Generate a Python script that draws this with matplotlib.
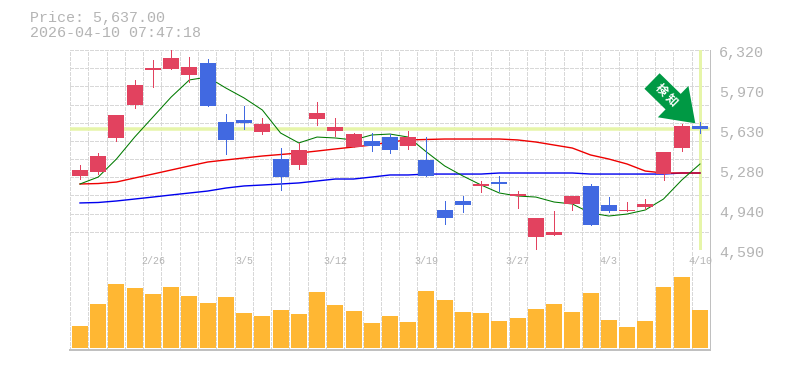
#!/usr/bin/env python3
"""
Candlestick chart with moving averages and a volume panel
"""

import numpy as np
import matplotlib
matplotlib.use('Agg')
import matplotlib.pyplot as plt
from matplotlib.patches import FancyArrow

# price data, one entry per session
opens = [5230, 5265, 5559, 5844, 6147, 6156, 6104, 6208, 5697, 5715, 5611, 5377, 5325, 5723, 5619, 5481, 5533, 5567,
         5490, 5369, 4936, 5014, 5144, 5178, 5057, 4702, 4720, 4988, 5144, 4979, 4927, 4962, 5247, 5472, 5663]
highs = [5325, 5429, 5758, 6061, 6234, 6320, 6259, 6242, 5766, 5836, 5732, 5472, 5516, 5870, 5732, 5602, 5602, 5593,
         5619, 5567, 5014, 5057, 5187, 5230, 5100, 4867, 4927, 5057, 5161, 5048, 5005, 5031, 5438, 5680, 5697]
lows = [5204, 5247, 5533, 5818, 6000, 6156, 6043, 5836, 5420, 5637, 5593, 5105, 5291, 5671, 5576, 5481, 5446, 5429,
        5464, 5230, 4815, 4919, 5092, 5100, 4953, 4590, 4720, 4936, 4806, 4919, 4927, 4945, 5195, 5446, 5602]
closes = [5282, 5403, 5758, 6017, 6164, 6251, 6173, 5836, 5542, 5689, 5680, 5221, 5455, 5775, 5654, 5593, 5490, 5455,
          5567, 5230, 4867, 4979, 5161, 5161, 5074, 4867, 4746, 5057, 4806, 4927, 4936, 4988, 5438, 5663, 5637]
volumes = [22000, 44000, 64000, 60000, 54000, 61000, 52000, 45000, 51000, 35000, 32000, 38000, 34000, 56000, 43000,
           37000, 25000, 32000, 26000, 57000, 48000, 36000, 35000, 27000, 30000, 39000, 44000, 36000, 55000, 28000,
           21000, 27000, 61000, 71000, 38000]

# moving averages
ma_short = [5161, 5221, 5377, 5567, 5740, 5913, 6061, 6086, 5991, 5905, 5801, 5602, 5516, 5567, 5559, 5542, 5585, 5593,
            5567, 5438, 5317, 5230, 5152, 5083, 5057, 5048, 5005, 4988, 4910, 4884, 4901, 4936, 5031, 5195, 5334]
ma_mid = [5161, 5165, 5178, 5213, 5247, 5282, 5317, 5351, 5369, 5386, 5403, 5416, 5429, 5446, 5464, 5481, 5498, 5524,
          5542, 5546, 5550, 5550, 5550, 5550, 5542, 5524, 5498, 5472, 5412, 5377, 5334, 5273, 5256, 5256, 5256]
ma_long = [4997, 5001, 5014, 5031, 5048, 5066, 5083, 5100, 5126, 5144, 5152, 5161, 5170, 5187, 5204, 5204, 5221, 5239,
           5239, 5247, 5247, 5247, 5247, 5256, 5256, 5256, 5256, 5256, 5247, 5247, 5247, 5247, 5247, 5256, 5256]

# axis labels
price_ticks = [6320, 5970, 5630, 5280, 4940, 4590]
date_positions = [4, 9, 14, 19, 24, 29, 34]
date_labels = ['2/26', '3/5', '3/12', '3/19', '3/27', '4/3', '4/10']
last_price = 5637
title_lines = ['Price: 5,637.00', '2026-04-10 07:47:18']
badge_text = '検 知'

W, H = 785, 370
LEFT, RIGHT = 70, 710
PRICE_TOP, PRICE_BOTTOM, VOL_BOTTOM = 50, 250, 350

RED = '#e2425f'
BLUE = '#4169e1'
ORANGE = '#ffb733'
HILITE = '#e6f5a9'
GRID = '#d8d8d8'
FRAME = '#c0c0c0'
TEXT = '#b4b4b4'
MONO = 'Liberation Mono'
PX = 0.72  # one pixel in points at dpi 100


def axes_rect(top, bottom):
    return [LEFT / W, 1 - bottom / H, (RIGHT - LEFT) / W, (bottom - top) / H]


def style_axes(ax, xlim):
    ax.set_xlim(*xlim)
    for side in ('top', 'left'):
        ax.spines[side].set_visible(False)
    for side in ('right', 'bottom'):
        ax.spines[side].set_color(FRAME)
        ax.spines[side].set_linewidth(PX)
    ax.set_xticks([])
    ax.set_yticks([])
    ax.set_axisbelow(True)
    for x in np.linspace(xlim[0], xlim[1], 36)[:-1]:
        ax.axvline(x, color=GRID, linewidth=PX, linestyle=(0, (4, 2)), zorder=0, antialiased=False)


def main():
    fig = plt.figure(figsize=(W / 100, H / 100), dpi=100)
    ax = fig.add_axes(axes_rect(PRICE_TOP, PRICE_BOTTOM))
    ax_vol = fig.add_axes(axes_rect(PRICE_BOTTOM, VOL_BOTTOM))

    xs = np.arange(len(closes))
    xlim = (-0.548, 34.55)

    style_axes(ax, xlim)
    style_axes(ax_vol, xlim)
    ax_vol.spines['bottom'].set_linewidth(2 * PX)

    # price panel
    ax.set_ylim(price_ticks[-1], price_ticks[0])
    for y in np.linspace(price_ticks[-1], price_ticks[0], 12)[1:]:
        ax.axhline(y, color=GRID, linewidth=PX, linestyle=(0, (4, 2)), zorder=0, antialiased=False,
                   clip_on=False)

    ax.axhline(last_price, xmax=0.997, color=HILITE, linewidth=3.5 * PX, zorder=1)
    ax.axvline(xs[-1], ymin=0.005, ymax=0.995, color=HILITE, linewidth=3 * PX, zorder=1)

    ax.plot(xs, ma_long, color='#0000ee', linewidth=1.0, zorder=2)
    ax.plot(xs, ma_mid, color='#ee0000', linewidth=1.0, zorder=2)
    ax.plot(xs, ma_short, color='#007a00', linewidth=0.75, zorder=2)

    colors = [RED if c >= o else BLUE for o, c in zip(opens, closes)]
    ax.vlines(xs, lows, highs, colors=colors, linewidth=PX, zorder=3, antialiased=False)
    body_low = np.minimum(opens, closes)
    body_size = np.abs(np.array(closes) - np.array(opens))
    ax.bar(xs, body_size, 0.877, bottom=body_low, color=colors, linewidth=0, zorder=4)

    for value in price_ticks:
        ax.annotate(f'{value:,}', xy=(1, value), xycoords=('axes fraction', 'data'),
                    xytext=(9 * PX, -3 * PX), textcoords='offset points',
                    ha='left', va='center', color=TEXT, fontsize=10.8, family=MONO,
                    annotation_clip=False)

    # volume panel
    ax_vol.set_ylim(-2000, 98000)
    ax_vol.bar(xs, volumes, 0.877, color=ORANGE, linewidth=0, zorder=2)
    for pos, label in zip(date_positions, date_labels):
        ax_vol.annotate(label, xy=(pos, 1), xycoords=('data', 'axes fraction'),
                        xytext=(0, -11 * PX), textcoords='offset points',
                        ha='center', va='center', color=TEXT, fontsize=7.2, family=MONO,
                        annotation_clip=False)

    # header
    for line, y in zip(title_lines, (18, 33)):
        fig.text(30 / W, 1 - y / H, line, ha='left', va='center', color=TEXT, fontsize=10.8, family=MONO)

    # green badge arrow, drawn in figure pixels so it keeps its shape
    overlay = fig.add_axes([0, 0, 1, 1], facecolor='none')
    overlay.set_xlim(0, W)
    overlay.set_ylim(H, 0)
    overlay.axis('off')
    overlay.add_patch(FancyArrow(652, 81, 43.3, 42.3, width=21.7, head_width=43.8, head_length=31,
                                 length_includes_head=True, color='#009944', linewidth=0))
    overlay.text(667, 95, badge_text, rotation=-45, rotation_mode='anchor', ha='center', va='center',
                 color='white', fontsize=8.5, fontweight='bold', family=['Noto Sans CJK JP', 'DejaVu Sans'])

    fig.savefig('out.png', dpi=100)


if __name__ == '__main__':
    main()
